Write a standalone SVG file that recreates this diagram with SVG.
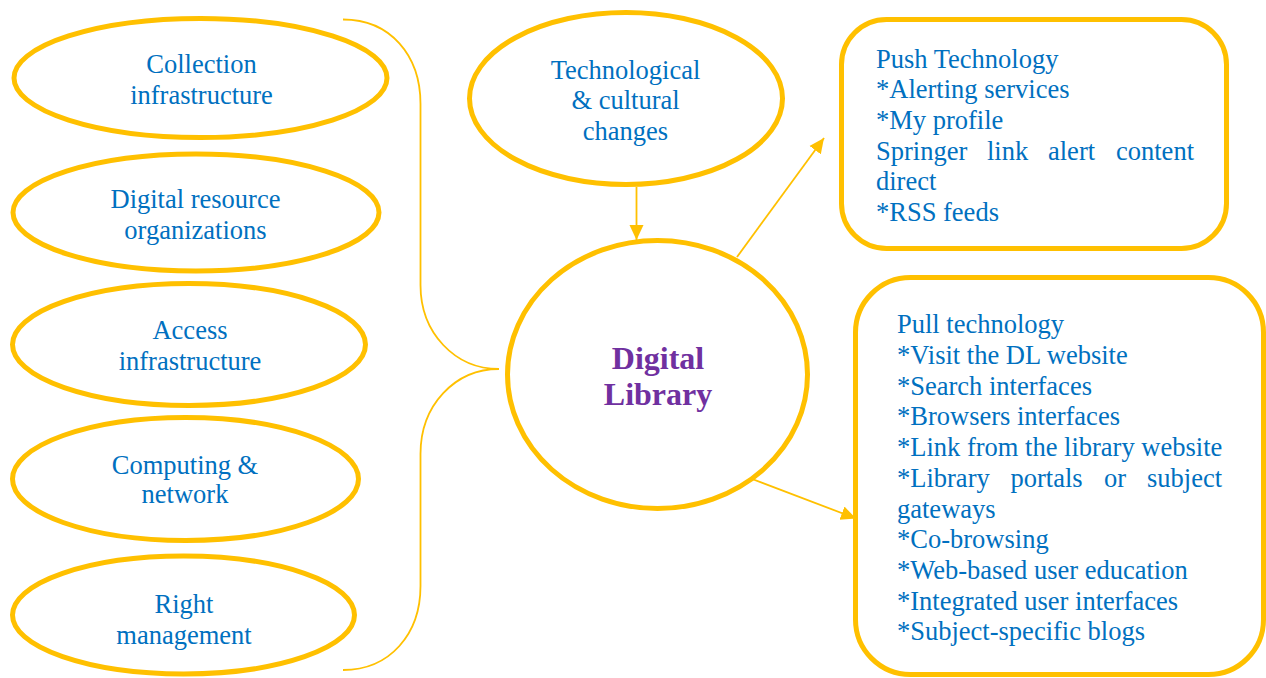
<svg xmlns="http://www.w3.org/2000/svg" width="1266" height="678" viewBox="0 0 1266 678">
<style>
.node{fill:#fff;stroke:#FFC000;stroke-width:5}
.t{font-family:"Liberation Serif","Times New Roman",serif;font-size:26.5px;fill:#0070C0}
.c{text-anchor:middle}
.dl{font-family:"Liberation Serif","Times New Roman",serif;font-size:32px;font-weight:bold;fill:#7030A0;text-anchor:middle}
.conn{fill:none;stroke:#FFC000;stroke-width:1.8}
</style>
<defs>
<marker id="ah" markerUnits="userSpaceOnUse" markerWidth="16" markerHeight="16" viewBox="0 0 16 16" refX="15" refY="8" orient="auto">
<path d="M0,1 L15,8 L0,15 Z" fill="#FFC000"/>
</marker>
</defs>
<rect width="1266" height="678" fill="#fff"/>

<g id="connectors">
<path class="conn" d="M343,19.5 C390,19.5 420.5,55 420.5,104 L420.5,285 C420.5,333 455,369 499,369 C455,369 420.5,405 420.5,454 L420.5,586 C420.5,634 390,670 343,670"/>
<line class="conn" x1="636.5" y1="187" x2="636.5" y2="240" marker-end="url(#ah)"/>
<line class="conn" x1="737" y1="257" x2="824" y2="138" marker-end="url(#ah)"/>
<line class="conn" x1="747" y1="477" x2="856" y2="518.5" marker-end="url(#ah)"/>
</g>

<g id="collection">
<ellipse class="node" cx="200.5" cy="78" rx="186.5" ry="59.5"/>
<text class="t c" x="201.5" y="73">Collection</text>
<text class="t c" x="201.5" y="103.5">infrastructure</text>
</g>
<g id="digital-resource">
<ellipse class="node" cx="196" cy="212.5" rx="183" ry="58.5"/>
<text class="t c" x="195.5" y="208">Digital resource</text>
<text class="t c" x="195.5" y="239">organizations</text>
</g>
<g id="access">
<ellipse class="node" cx="189" cy="344.5" rx="176.5" ry="61"/>
<text class="t c" x="190" y="338.5">Access</text>
<text class="t c" x="190" y="369.5">infrastructure</text>
</g>
<g id="computing">
<ellipse class="node" cx="185.5" cy="479" rx="173" ry="61.5"/>
<text class="t c" x="185" y="473.5">Computing &amp;</text>
<text class="t c" x="185" y="502.5">network</text>
</g>
<g id="right-management">
<ellipse class="node" cx="183.5" cy="615" rx="171" ry="59"/>
<text class="t c" x="184" y="612.5">Right</text>
<text class="t c" x="184" y="643.5">management</text>
</g>

<g id="tech-cultural">
<ellipse class="node" cx="626" cy="98.5" rx="156.5" ry="86"/>
<text class="t c" x="625.5" y="78.5">Technological</text>
<text class="t c" x="625.5" y="109">&amp; cultural</text>
<text class="t c" x="625.5" y="140">changes</text>
</g>

<g id="digital-library">
<ellipse class="node" cx="657.5" cy="374.5" rx="150" ry="134"/>
<text class="dl" x="658" y="368.5">Digital</text>
<text class="dl" x="658" y="405">Library</text>
</g>

<g id="push">
<rect class="node" x="841.5" y="19.5" width="385" height="229" rx="45" ry="45"/>
<text class="t" x="876" y="67.5">Push Technology</text>
<text class="t" x="876" y="98.2">*Alerting services</text>
<text class="t" x="876" y="128.9">*My profile</text>
<text class="t" y="159.6"><tspan x="876">Springer</tspan><tspan x="987">link</tspan><tspan x="1048">alert</tspan><tspan x="1116">content</tspan></text>
<text class="t" x="876" y="190.3">direct</text>
<text class="t" x="876" y="221">*RSS feeds</text>
</g>

<g id="pull">
<rect class="node" x="855.5" y="277.5" width="408" height="397" rx="55" ry="55"/>
<text class="t" x="897" y="333.3">Pull technology</text>
<text class="t" x="897" y="364">*Visit the DL website</text>
<text class="t" x="897" y="394.7">*Search interfaces</text>
<text class="t" x="897" y="425.4">*Browsers interfaces</text>
<text class="t" x="897" y="456.1">*Link from the library website</text>
<text class="t" y="486.8"><tspan x="897">*Library</tspan><tspan x="1010.5">portals</tspan><tspan x="1104">or</tspan><tspan x="1147">subject</tspan></text>
<text class="t" x="897" y="517.5">gateways</text>
<text class="t" x="897" y="548.2">*Co-browsing</text>
<text class="t" x="897" y="578.9">*Web-based user education</text>
<text class="t" x="897" y="609.6">*Integrated user interfaces</text>
<text class="t" x="897" y="640.3">*Subject-specific blogs</text>
</g>
</svg>
